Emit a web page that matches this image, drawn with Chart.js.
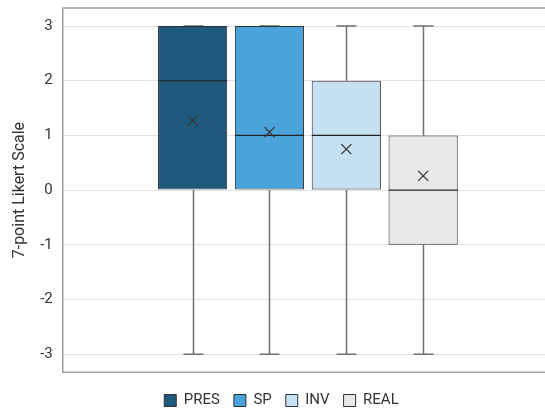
<!DOCTYPE html>
<html>
<head>
<meta charset="utf-8">
<script src="https://cdn.jsdelivr.net/npm/chart.js@4"></script>
<style>
  html, body { margin: 0; padding: 0; background: #fff; overflow: hidden; }
  #wrap { width: 553px; height: 420px; position: relative; }
</style>
</head>
<body>
<div id="wrap"><canvas id="boxChart"></canvas></div>
<script>
// box plot data, one box per group
const groups = ['PRES', 'SP', 'INV', 'REAL'];
const mins = [-3, -3, -3, -3];
const q1s = [0, 0, 0, -1];
const medians = [2, 1, 1, 0];
const q3s = [3, 3, 2, 1];
const maxs = [3, 3, 3, 3];
const means = [1.27, 1.06, 0.75, 0.26];
const yTicks = [-3, -2, -1, 0, 1, 2, 3];
const colors = ['#1f5a7e', '#4ba3dc', '#c6e1f2', '#e8e8e8'];

const FONT = 'Roboto, "Liberation Sans", sans-serif';

// whiskers behind the boxes, median + mean marker on top, frame around plot
const boxExtras = {
  id: 'boxExtras',
  beforeDatasetsDraw(chart) {
    const ctx = chart.ctx;
    const y = chart.scales.y;
    ctx.save();
    ctx.strokeStyle = '#707070';
    ctx.lineWidth = 1.5;
    groups.forEach((g, i) => {
      const bar = chart.getDatasetMeta(i).data[0];
      const x = Math.round(bar.x) + 0.5;
      const cap = 10;
      ctx.beginPath();
      ctx.moveTo(x, y.getPixelForValue(maxs[i]));
      ctx.lineTo(x, y.getPixelForValue(q3s[i]));
      ctx.moveTo(x, y.getPixelForValue(q1s[i]));
      ctx.lineTo(x, y.getPixelForValue(mins[i]));
      ctx.moveTo(x - cap, y.getPixelForValue(maxs[i]));
      ctx.lineTo(x + cap, y.getPixelForValue(maxs[i]));
      ctx.moveTo(x - cap, y.getPixelForValue(mins[i]));
      ctx.lineTo(x + cap, y.getPixelForValue(mins[i]));
      ctx.stroke();
    });
    ctx.restore();
  },
  afterDatasetsDraw(chart) {
    const ctx = chart.ctx;
    const y = chart.scales.y;
    ctx.save();
    groups.forEach((g, i) => {
      const bar = chart.getDatasetMeta(i).data[0];
      const half = bar.width / 2;
      const my = y.getPixelForValue(medians[i]);
      ctx.strokeStyle = '#222';
      ctx.lineWidth = 1.2;
      ctx.beginPath();
      ctx.moveTo(bar.x - half, my);
      ctx.lineTo(bar.x + half, my);
      ctx.stroke();
      const ay = y.getPixelForValue(means[i]);
      const s = 5;
      ctx.strokeStyle = '#333';
      ctx.lineWidth = 1.3;
      ctx.beginPath();
      ctx.moveTo(bar.x - s, ay - s);
      ctx.lineTo(bar.x + s, ay + s);
      ctx.moveTo(bar.x + s, ay - s);
      ctx.lineTo(bar.x - s, ay + s);
      ctx.stroke();
    });
    const a = chart.chartArea;
    ctx.strokeStyle = '#a0a0a0';
    ctx.lineWidth = 1.5;
    ctx.strokeRect(a.left, a.top, a.right - a.left, a.bottom - a.top);
    ctx.restore();
  }
};

new Chart(document.getElementById('boxChart'), {
  type: 'bar',
  data: {
    labels: [''],
    datasets: groups.map((g, i) => ({
      label: g,
      data: [[q1s[i], q3s[i]]],
      backgroundColor: colors[i],
      borderColor: '#2f2f2f',
      borderWidth: 1,
      borderSkipped: false,
      barPercentage: 0.9,
      categoryPercentage: 0.627
    }))
  },
  options: {
    responsive: true,
    maintainAspectRatio: false,
    animation: false,
    layout: { padding: { top: 8, right: 0, left: 10, bottom: 2 } },
    scales: {
      x: {
        display: true,
        grid: { display: false },
        border: { display: false },
        ticks: { display: false },
        title: { display: true, text: ' ', font: { size: 4 }, padding: { top: -6, bottom: 0 } }
      },
      y: {
        min: -3.33,
        max: 3.33,
        afterBuildTicks: scale => { scale.ticks = yTicks.map(v => ({ value: v })); },
        afterFit: scale => { scale.paddingTop = 0; scale.paddingBottom = 0; },
        grid: { color: '#e2e2e2', lineWidth: 1, drawTicks: false },
        border: { display: false },
        ticks: {
          color: '#333',
          padding: 10,
          font: { family: FONT, size: 15 }
        },
        title: {
          display: true,
          text: '7-point Likert Scale',
          color: '#333',
          padding: { top: 0, bottom: 1 },
          font: { family: FONT, size: 16 }
        }
      }
    },
    plugins: {
      legend: {
        position: 'bottom',
        labels: {
          color: '#333',
          boxWidth: 12,
          boxHeight: 12,
          padding: 14,
          font: { family: FONT, size: 15 }
        }
      },
      tooltip: { enabled: false }
    }
  },
  plugins: [boxExtras]
});
</script>
</body>
</html>
